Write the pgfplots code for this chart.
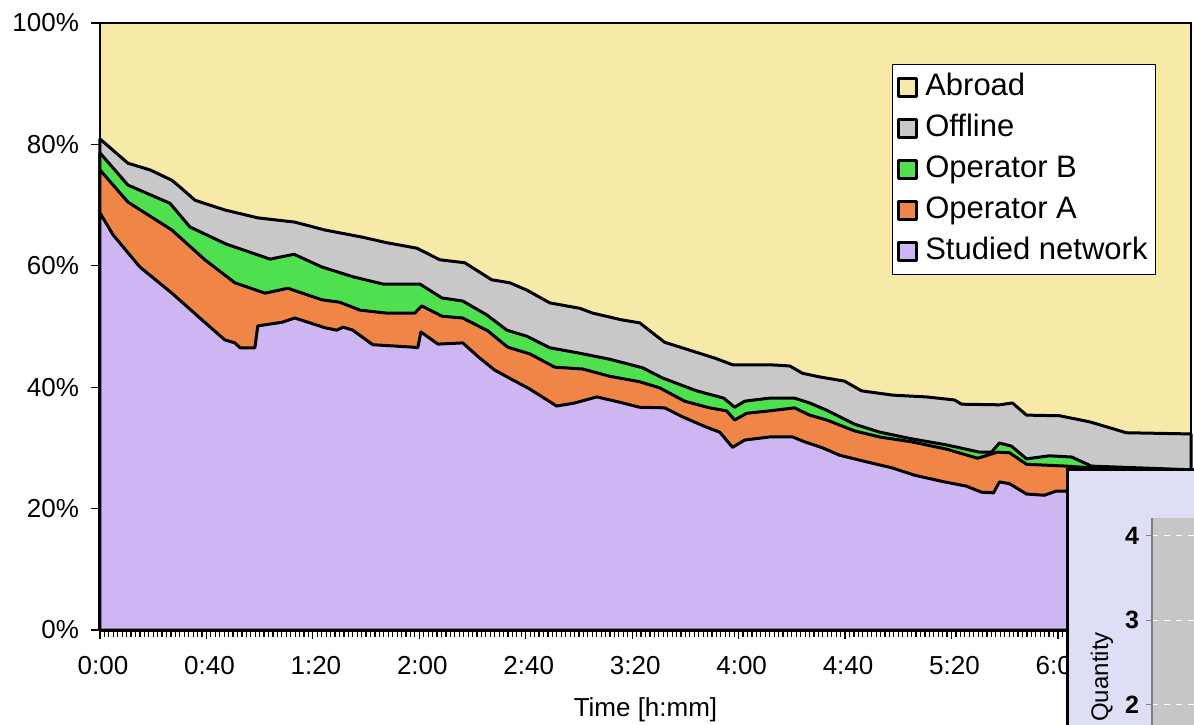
\documentclass[border=0pt]{standalone}
\usepackage{pgfplots}
\pgfplotsset{compat=1.18}
\usepackage{fontspec}
\setmainfont{Liberation Sans}

\definecolor{abroadc}{HTML}{F7E9A8}
\definecolor{offc}{HTML}{C8C8C8}
\definecolor{opbc}{HTML}{4FE04F}
\definecolor{opac}{HTML}{EF8546}
\definecolor{studc}{HTML}{CDB6F2}
\definecolor{insetbg}{HTML}{DEDEF7}
\definecolor{insetgray}{HTML}{C6C6C6}

\begin{document}
\begin{tikzpicture}
\path[use as bounding box] (0pt,0pt) rectangle (597pt,-362pt);

\begin{axis}[
    at={(50pt,-315pt)}, anchor=south west,
    scale only axis, width=545.5pt, height=303.5pt,
    xmin=0, xmax=410, ymin=0, ymax=100,
    clip=false,
    axis line style={line width=1pt},
    tick align=outside, xtick pos=bottom, ytick pos=left,
    major tick length=4.5pt, minor tick length=3.5pt,
    tick style={black, line width=0.6pt},
    xtick={0,40,...,400},
    xticklabels={0:00,0:40,1:20,2:00,2:40,3:20,4:00,4:40,5:20,6:00,6:40},
    minor x tick num=23,
    ytick={0,20,...,100},
    yticklabels={0\%,20\%,40\%,60\%,80\%,100\%},
    ticklabel style={font=\fontsize{13}{15}\selectfont},
    xticklabel style={yshift=-5pt, xshift=1.5pt},
    yticklabel style={xshift=-2.5pt},
    xlabel={Time [h:mm]},
    xlabel style={font=\fontsize{13}{15}\selectfont, at={(axis description cs:0.5,0)}, anchor=center, yshift=-40pt},
    legend style={at={(0.726,0.932)}, anchor=north west, draw=black, line width=0.6pt,
        fill=white, font=\fontsize{15.5}{17}\selectfont, row sep=1.5pt,
        inner xsep=2pt, inner ysep=2pt,
        nodes={inner sep=2pt, text height=11.5pt, text depth=3.5pt}},
    legend cell align=left,
    legend image code/.code={\draw[#1, line width=1.6pt] (0.5pt,-4.5pt) rectangle (9.5pt,4.5pt);
        \path[draw=none, fill=none] (0pt,0pt) -- (12pt,0pt);},
    every axis plot/.append style={draw=black, line width=1.5pt, line join=round},
]
\addplot[fill=abroadc, line width=1pt] coordinates {(0,100) (410,100)} \closedcycle;
\addlegendentry{Abroad}

\addplot[fill=offc] coordinates {
(0,80.9) (10.5,76.9) (18.8,75.8) (27.0,74.1) (30.0,73.0) (35.7,70.8) (46.9,69.2)
(59.3,67.9) (73.2,67.2) (84.5,65.9) (98.8,64.7) (107.8,63.8) (119.1,62.9)
(127.7,61.0) (137.1,60.5) (147.2,57.7) (154.0,57.2) (160.4,56.0) (169.0,53.9)
(180.3,53.0) (185.2,52.2) (196.0,51.1) (202.8,50.6) (212.2,47.4) (221.6,46.1)
(231.0,44.8) (237.7,43.7) (251.6,43.7) (259.2,43.5) (264.0,42.3) (270.4,41.7)
(279.8,41.0) (286.2,39.4) (297.8,38.7) (310.6,38.4) (321.1,37.9) (323.8,37.2)
(338.0,37.1) (342.9,37.4) (348.2,35.4) (360.6,35.3) (371.9,34.3) (385.7,32.5)
(410,32.3)} \closedcycle;
\addlegendentry{Offline}

\addplot[fill=opbc] coordinates {
(0,78.6) (10.5,73.3) (26.3,70.3) (33.8,66.4) (47.3,63.6) (63.9,61.1) (72.9,61.9)
(83.4,59.8) (95.0,58.2) (106.3,57.0) (120.2,57.0) (128.5,54.7) (136.3,54.2)
(145.4,51.9) (152.9,49.4) (160.4,48.4) (169.0,46.5) (180.3,45.6) (191.6,44.6)
(203.9,43.2) (211.5,41.5) (224.2,39.4) (234.4,38.2) (238.5,36.7) (242.3,37.7)
(251.6,38.2) (261.0,38.2) (266.7,37.4) (273.1,36.2) (283.6,33.9) (293.0,32.6)
(305.0,31.5) (318.1,30.5) (330.5,29.3) (335.0,29.3) (338.0,30.8) (342.5,30.3)
(348.2,28.2) (356.8,28.7) (365.1,28.5) (372.6,27.0) (410,26.4)} \closedcycle;
\addlegendentry{Operator B}

\addplot[fill=opac] coordinates {
(0,75.8) (10.5,70.5) (27.0,65.9) (39.4,61.0) (50.7,57.2) (62.0,55.5) (70.6,56.3)
(83.4,54.4) (90.1,54.0) (97.7,52.7) (107.8,52.2) (118.3,52.2) (120.9,53.4)
(128.5,51.7) (136.3,51.4) (145.7,49.3) (153.2,46.6) (161.5,45.5) (170.9,43.3)
(181.4,43.0) (191.6,41.8) (202.8,40.9) (210.3,39.9) (219.7,37.7) (229.1,36.6)
(235.5,36.1) (238.5,34.6) (243.0,35.7) (251.6,36.1) (261.0,36.6) (266.7,35.4)
(273.1,34.6) (283.6,32.8) (293.0,31.8) (305.0,31.0) (318.1,29.8) (329.8,28.3)
(337.3,29.3) (341.8,29.2) (348.2,27.3) (363.2,27.0) (410,25.6)} \closedcycle;
\addlegendentry{Operator A}

\addplot[fill=studc] coordinates {
(0,68.7) (4.9,65.1) (15.0,59.8) (27.0,55.5) (38.3,51.1) (46.9,47.8) (50.7,47.3)
(52.6,46.5) (58.2,46.5) (59.3,50.1) (68.4,50.7) (73.2,51.4) (78.9,50.6)
(84.5,49.8) (89.0,49.4) (91.3,49.9) (95.0,49.4) (102.5,47.0) (117.6,46.6)
(119.4,46.5) (120.6,49.1) (127.0,47.1) (136.3,47.3) (142.7,44.8) (148.4,42.8)
(155.1,41.2) (161.5,39.7) (171.6,36.9) (178.4,37.4) (186.7,38.4) (194.6,37.6)
(202.8,36.7) (212.2,36.6) (219.0,35.1) (228.0,33.4) (232.9,32.6) (237.7,30.1)
(242.3,31.3) (251.6,31.8) (260.3,31.8) (264.8,31.0) (271.6,30.0) (277.9,28.8)
(288.1,27.7) (297.8,26.7) (306.1,25.5) (317.4,24.4) (325.6,23.7) (331.3,22.7)
(335.8,22.6) (338.0,24.4) (341.8,24.1) (348.2,22.4) (354.9,22.2) (359.4,22.9)
(363.2,22.9) (410,22.2)} \closedcycle;
\addlegendentry{Studied network}
\end{axis}

% overlapping inset chart in the corner
\draw[line width=1.5pt, fill=insetbg] (533.5pt,-234.5pt) rectangle (640pt,-400pt);
\begin{axis}[
    at={(576pt,-259pt)}, anchor=north west,
    scale only axis, width=100pt, height=178pt,
    xmin=0, xmax=1, ymin=0, ymax=4.21,
    axis background/.style={fill=insetgray},
    axis x line=none, axis y line*=left,
    y axis line style={gray, line width=0.6pt, -},
    ytick={2,3,4}, yticklabels={2,3,4},
    tick align=outside, major tick length=3pt,
    tick style={gray, line width=0.6pt},
    ymajorgrids, grid style={white, dashed, line width=0.6pt},
    yticklabel style={font=\fontsize{12.5}{14}\selectfont\bfseries},
]
\end{axis}
\node[rotate=90, font=\fontsize{12}{14}\selectfont] at (551pt,-338.5pt) {Quantity};
\end{tikzpicture}
\end{document}
